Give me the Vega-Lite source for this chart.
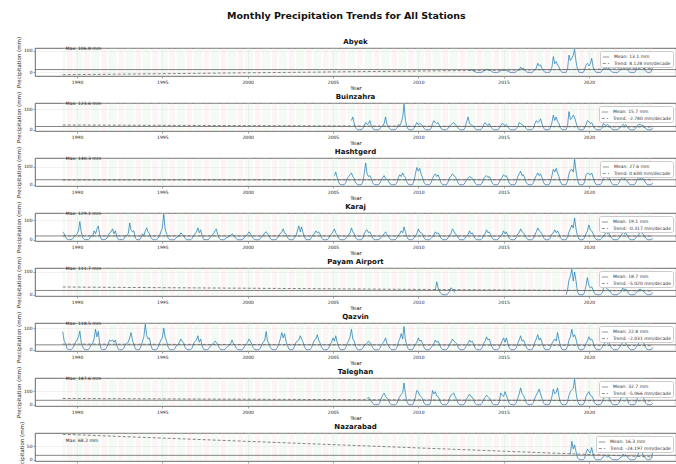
{
"$schema":"https://vega.github.io/schema/vega-lite/v6.json",
"background":"white",
"padding":{"left":16,"top":10,"right":0,"bottom":0},
"title":{"text":"Monthly Precipitation Trends for All Stations","fontSize":9.5,"fontWeight":"bold","anchor":"middle","offset":16,"color":"#111","frame":"bounds"},
"bounds":"flush",
"spacing":27,
"resolve":{"scale":{"strokeDash":"independent","x":"independent","y":"independent"},"legend":{"strokeDash":"independent"}},
"datasets":{
"st":[
{"s":"A","mean":13.1,"lab":"Mean: 13.1 mm","max":106.8,"mt":"Max: 106.8 mm","d0":"1989-03"},
{"s":"B","mean":15.7,"lab":"Mean: 15.7 mm","max":123.6,"mt":"Max: 123.6 mm","d0":"1989-03"},
{"s":"H","mean":27.6,"lab":"Mean: 27.6 mm","max":140.3,"mt":"Max: 140.3 mm","d0":"1989-03"},
{"s":"K","mean":19.1,"lab":"Mean: 19.1 mm","max":129.1,"mt":"Max: 129.1 mm","d0":"1989-03"},
{"s":"P","mean":18.7,"lab":"Mean: 18.7 mm","max":111.7,"mt":"Max: 111.7 mm","d0":"1989-03"},
{"s":"Q","mean":22.8,"lab":"Mean: 22.8 mm","max":118.5,"mt":"Max: 118.5 mm","d0":"1989-03"},
{"s":"T","mean":32.7,"lab":"Mean: 32.7 mm","max":187.6,"mt":"Max: 187.6 mm","d0":"1989-03"},
{"s":"N","mean":16.3,"lab":"Mean: 16.3 mm","max":68.2,"mt":"Max: 68.2 mm","d0":"1989-03"}
],
"tr":[
{"s":"A","d":"1989-03","v":-10.7,"lab":"Trend: 8.128 mm/decade"},{"s":"A","d":"2023-10","v":17.5,"lab":"Trend: 8.128 mm/decade"},
{"s":"B","d":"1989-03","v":22.9,"lab":"Trend: -2.780 mm/decade"},{"s":"B","d":"2023-10","v":13.2,"lab":"Trend: -2.780 mm/decade"},
{"s":"H","d":"1989-03","v":26.1,"lab":"Trend: 0.600 mm/decade"},{"s":"H","d":"2023-10","v":28.2,"lab":"Trend: 0.600 mm/decade"},
{"s":"K","d":"1989-03","v":19.65,"lab":"Trend: -0.317 mm/decade"},{"s":"K","d":"2023-10","v":18.55,"lab":"Trend: -0.317 mm/decade"},
{"s":"P","d":"1989-03","v":33.9,"lab":"Trend: -5.020 mm/decade"},{"s":"P","d":"2023-10","v":16.5,"lab":"Trend: -5.020 mm/decade"},
{"s":"Q","d":"1989-03","v":26.3,"lab":"Trend: -2.031 mm/decade"},{"s":"Q","d":"2023-10","v":19.3,"lab":"Trend: -2.031 mm/decade"},
{"s":"T","d":"1989-03","v":46.1,"lab":"Trend: -5.066 mm/decade"},{"s":"T","d":"2023-10","v":28.5,"lab":"Trend: -5.066 mm/decade"},
{"s":"N","d":"1989-03","v":94.3,"lab":"Trend: -24.197 mm/decade"},{"s":"N","d":"2023-10","v":10.4,"lab":"Trend: -24.197 mm/decade"}
],
"bd":[
{"w0":"1989-03","w1":"1989-05","d0":"1989-06","d1":"1989-10"},
{"w0":"1989-11","w1":"1990-05","d0":"1990-06","d1":"1990-10"},
{"w0":"1990-11","w1":"1991-05","d0":"1991-06","d1":"1991-10"},
{"w0":"1991-11","w1":"1992-05","d0":"1992-06","d1":"1992-10"},
{"w0":"1992-11","w1":"1993-05","d0":"1993-06","d1":"1993-10"},
{"w0":"1993-11","w1":"1994-05","d0":"1994-06","d1":"1994-10"},
{"w0":"1994-11","w1":"1995-05","d0":"1995-06","d1":"1995-10"},
{"w0":"1995-11","w1":"1996-05","d0":"1996-06","d1":"1996-10"},
{"w0":"1996-11","w1":"1997-05","d0":"1997-06","d1":"1997-10"},
{"w0":"1997-11","w1":"1998-05","d0":"1998-06","d1":"1998-10"},
{"w0":"1998-11","w1":"1999-05","d0":"1999-06","d1":"1999-10"},
{"w0":"1999-11","w1":"2000-05","d0":"2000-06","d1":"2000-10"},
{"w0":"2000-11","w1":"2001-05","d0":"2001-06","d1":"2001-10"},
{"w0":"2001-11","w1":"2002-05","d0":"2002-06","d1":"2002-10"},
{"w0":"2002-11","w1":"2003-05","d0":"2003-06","d1":"2003-10"},
{"w0":"2003-11","w1":"2004-05","d0":"2004-06","d1":"2004-10"},
{"w0":"2004-11","w1":"2005-05","d0":"2005-06","d1":"2005-10"},
{"w0":"2005-11","w1":"2006-05","d0":"2006-06","d1":"2006-10"},
{"w0":"2006-11","w1":"2007-05","d0":"2007-06","d1":"2007-10"},
{"w0":"2007-11","w1":"2008-05","d0":"2008-06","d1":"2008-10"},
{"w0":"2008-11","w1":"2009-05","d0":"2009-06","d1":"2009-10"},
{"w0":"2009-11","w1":"2010-05","d0":"2010-06","d1":"2010-10"},
{"w0":"2010-11","w1":"2011-05","d0":"2011-06","d1":"2011-10"},
{"w0":"2011-11","w1":"2012-05","d0":"2012-06","d1":"2012-10"},
{"w0":"2012-11","w1":"2013-05","d0":"2013-06","d1":"2013-10"},
{"w0":"2013-11","w1":"2014-05","d0":"2014-06","d1":"2014-10"},
{"w0":"2014-11","w1":"2015-05","d0":"2015-06","d1":"2015-10"},
{"w0":"2015-11","w1":"2016-05","d0":"2016-06","d1":"2016-10"},
{"w0":"2016-11","w1":"2017-05","d0":"2017-06","d1":"2017-10"},
{"w0":"2017-11","w1":"2018-05","d0":"2018-06","d1":"2018-10"},
{"w0":"2018-11","w1":"2019-05","d0":"2019-06","d1":"2019-10"},
{"w0":"2019-11","w1":"2020-05","d0":"2020-06","d1":"2020-10"},
{"w0":"2020-11","w1":"2021-05","d0":"2021-06","d1":"2021-10"},
{"w0":"2021-11","w1":"2022-05","d0":"2022-06","d1":"2022-10"},
{"w0":"2022-11","w1":"2023-05","d0":"2023-06","d1":"2023-10"}
],
"m":[
{"d":"1989-03","K":40,"Q":84},{"d":"1989-04","K":30,"Q":40},{"d":"1989-05","K":12,"Q":30},{"d":"1989-06","K":3,"Q":5},{"d":"1989-07","K":1,"Q":1},{"d":"1989-08","K":0,"Q":0},{"d":"1989-09","K":1,"Q":1},{"d":"1989-10","K":5,"Q":8},{"d":"1989-11","K":15,"Q":20},{"d":"1989-12","K":22,"Q":35},
{"d":"1990-01","K":30,"Q":45},{"d":"1990-02","K":45,"Q":60},{"d":"1990-03","K":92,"Q":87},{"d":"1990-04","K":40,"Q":35},{"d":"1990-05","K":10,"Q":15},{"d":"1990-06","K":2,"Q":2},{"d":"1990-07","K":0,"Q":0},{"d":"1990-08","K":1,"Q":0},{"d":"1990-09","K":0,"Q":1},{"d":"1990-10","K":6,"Q":10},{"d":"1990-11","K":20,"Q":25},{"d":"1990-12","K":18,"Q":30},
{"d":"1991-01","K":45,"Q":50},{"d":"1991-02","K":30,"Q":95},{"d":"1991-03","K":53,"Q":60},{"d":"1991-04","K":70,"Q":85},{"d":"1991-05","K":25,"Q":30},{"d":"1991-06","K":3,"Q":4},{"d":"1991-07","K":1,"Q":0},{"d":"1991-08","K":0,"Q":1},{"d":"1991-09","K":2,"Q":2},{"d":"1991-10","K":8,"Q":12},{"d":"1991-11","K":25,"Q":30},{"d":"1991-12","K":35,"Q":45},
{"d":"1992-01","K":40,"Q":40},{"d":"1992-02","K":55,"Q":45},{"d":"1992-03","K":30,"Q":35},{"d":"1992-04","K":45,"Q":45},{"d":"1992-05","K":15,"Q":20},{"d":"1992-06","K":2,"Q":3},{"d":"1992-07","K":0,"Q":0},{"d":"1992-08","K":1,"Q":0},{"d":"1992-09","K":0,"Q":1},{"d":"1992-10","K":4,"Q":8},{"d":"1992-11","K":18,"Q":25},{"d":"1992-12","K":22,"Q":30},
{"d":"1993-01","K":30,"Q":35},{"d":"1993-02","K":85,"Q":55},{"d":"1993-03","K":50,"Q":80},{"d":"1993-04","K":40,"Q":45},{"d":"1993-05","K":45,"Q":25},{"d":"1993-06","K":8,"Q":4},{"d":"1993-07","K":1,"Q":0},{"d":"1993-08","K":0,"Q":0},{"d":"1993-09","K":0,"Q":2},{"d":"1993-10","K":10,"Q":15},{"d":"1993-11","K":30,"Q":40},{"d":"1993-12","K":20,"Q":60},
{"d":"1994-01","K":45,"Q":118.5},{"d":"1994-02","K":60,"Q":65},{"d":"1994-03","K":40,"Q":50},{"d":"1994-04","K":30,"Q":55},{"d":"1994-05","K":12,"Q":20},{"d":"1994-06","K":2,"Q":2},{"d":"1994-07","K":0,"Q":0},{"d":"1994-08","K":0,"Q":0},{"d":"1994-09","K":1,"Q":1},{"d":"1994-10","K":7,"Q":10},{"d":"1994-11","K":20,"Q":30},{"d":"1994-12","K":40,"Q":45},
{"d":"1995-01","K":60,"Q":55},{"d":"1995-02","K":129.1,"Q":100},{"d":"1995-03","K":55,"Q":60},{"d":"1995-04","K":30,"Q":40},{"d":"1995-05","K":10,"Q":15},{"d":"1995-06","K":1,"Q":1},{"d":"1995-07","K":0,"Q":0},{"d":"1995-08","K":0,"Q":0},{"d":"1995-09","K":0,"Q":0},{"d":"1995-10","K":3,"Q":6},{"d":"1995-11","K":12,"Q":20},{"d":"1995-12","K":15,"Q":25},
{"d":"1996-01","K":20,"Q":35},{"d":"1996-02","K":35,"Q":50},{"d":"1996-03","K":28,"Q":40},{"d":"1996-04","K":20,"Q":30},{"d":"1996-05","K":8,"Q":12},{"d":"1996-06","K":1,"Q":2},{"d":"1996-07","K":0,"Q":0},{"d":"1996-08","K":0,"Q":0},{"d":"1996-09","K":0,"Q":1},{"d":"1996-10","K":8,"Q":8},{"d":"1996-11","K":22,"Q":30},{"d":"1996-12","K":30,"Q":40},
{"d":"1997-01","K":40,"Q":45},{"d":"1997-02","K":60,"Q":65},{"d":"1997-03","K":35,"Q":35},{"d":"1997-04","K":50,"Q":50},{"d":"1997-05","K":20,"Q":18},{"d":"1997-06","K":3,"Q":2},{"d":"1997-07","K":0,"Q":0},{"d":"1997-08","K":1,"Q":0},{"d":"1997-09","K":0,"Q":0},{"d":"1997-10","K":5,"Q":9},{"d":"1997-11","K":15,"Q":20},{"d":"1997-12","K":25,"Q":25},
{"d":"1998-01","K":30,"Q":30},{"d":"1998-02","K":45,"Q":40},{"d":"1998-03","K":55,"Q":35},{"d":"1998-04","K":25,"Q":25},{"d":"1998-05","K":8,"Q":10},{"d":"1998-06","K":1,"Q":1},{"d":"1998-07","K":0,"Q":0},{"d":"1998-08","K":0,"Q":0},{"d":"1998-09","K":2,"Q":1},{"d":"1998-10","K":10,"Q":10},{"d":"1998-11","K":12,"Q":15},{"d":"1998-12","K":18,"Q":20},
{"d":"1999-01","K":22,"Q":28},{"d":"1999-02","K":30,"Q":45},{"d":"1999-03","K":25,"Q":30},{"d":"1999-04","K":15,"Q":20},{"d":"1999-05","K":5,"Q":8},{"d":"1999-06","K":0,"Q":1},{"d":"1999-07","K":0,"Q":0},{"d":"1999-08","K":0,"Q":0},{"d":"1999-09","K":1,"Q":0},{"d":"1999-10","K":4,"Q":5},{"d":"1999-11","K":15,"Q":18},{"d":"1999-12","K":20,"Q":25},
{"d":"2000-01","K":28,"Q":35},{"d":"2000-02","K":40,"Q":50},{"d":"2000-03","K":30,"Q":40},{"d":"2000-04","K":18,"Q":25},{"d":"2000-05","K":6,"Q":10},{"d":"2000-06","K":1,"Q":1},{"d":"2000-07","K":0,"Q":0},{"d":"2000-08","K":0,"Q":0},{"d":"2000-09","K":0,"Q":1},{"d":"2000-10","K":6,"Q":8},{"d":"2000-11","K":18,"Q":25},{"d":"2000-12","K":22,"Q":35},
{"d":"2001-01","K":35,"Q":45},{"d":"2001-02","K":40,"Q":85},{"d":"2001-03","K":30,"Q":40},{"d":"2001-04","K":20,"Q":30},{"d":"2001-05","K":5,"Q":12},{"d":"2001-06","K":0,"Q":2},{"d":"2001-07","K":0,"Q":0},{"d":"2001-08","K":0,"Q":0},{"d":"2001-09","K":2,"Q":1},{"d":"2001-10","K":8,"Q":12},{"d":"2001-11","K":25,"Q":30},{"d":"2001-12","K":30,"Q":50},
{"d":"2002-01","K":40,"Q":80},{"d":"2002-02","K":55,"Q":55},{"d":"2002-03","K":35,"Q":75},{"d":"2002-04","K":30,"Q":40},{"d":"2002-05","K":12,"Q":20},{"d":"2002-06","K":2,"Q":3},{"d":"2002-07","K":0,"Q":0},{"d":"2002-08","K":0,"Q":0},{"d":"2002-09","K":1,"Q":2},{"d":"2002-10","K":10,"Q":15},{"d":"2002-11","K":22,"Q":35},{"d":"2002-12","K":45,"Q":40},
{"d":"2003-01","K":70,"Q":45},{"d":"2003-02","K":40,"Q":65},{"d":"2003-03","K":65,"Q":50},{"d":"2003-04","K":35,"Q":35},{"d":"2003-05","K":15,"Q":15},{"d":"2003-06","K":2,"Q":2},{"d":"2003-07","K":0,"Q":0},{"d":"2003-08","K":1,"Q":0},{"d":"2003-09","K":0,"Q":1},{"d":"2003-10","K":12,"Q":10},{"d":"2003-11","K":25,"Q":30},{"d":"2003-12","K":30,"Q":45},
{"d":"2004-01","K":45,"Q":50},{"d":"2004-02","K":35,"Q":70},{"d":"2004-03","K":40,"Q":45},{"d":"2004-04","K":28,"Q":30},{"d":"2004-05","K":10,"Q":12},{"d":"2004-06","K":1,"Q":2},{"d":"2004-07","K":0,"Q":0},{"d":"2004-08","K":0,"Q":0},{"d":"2004-09","K":1,"Q":1},{"d":"2004-10","K":6,"Q":8},{"d":"2004-11","K":20,"Q":25},{"d":"2004-12","K":30,"Q":35},
{"d":"2005-01","K":40,"Q":55},{"d":"2005-02","K":55,"Q":40,"H":50},{"d":"2005-03","K":35,"Q":65,"H":70},{"d":"2005-04","K":25,"Q":35,"H":40},{"d":"2005-05","K":8,"Q":15,"H":15},{"d":"2005-06","K":1,"Q":2,"H":2},{"d":"2005-07","K":0,"Q":0,"H":0},{"d":"2005-08","K":0,"Q":0,"H":0},{"d":"2005-09","K":0,"Q":1,"H":1},{"d":"2005-10","K":5,"Q":10,"H":10},{"d":"2005-11","K":18,"Q":30,"H":35},{"d":"2005-12","K":25,"Q":40,"H":45},
{"d":"2006-01","K":35,"Q":60,"H":55},{"d":"2006-02","K":60,"Q":95,"H":65,"B":45},{"d":"2006-03","K":40,"Q":50,"H":45,"B":62},{"d":"2006-04","K":30,"Q":40,"H":35,"B":30},{"d":"2006-05","K":10,"Q":15,"H":12,"B":10},{"d":"2006-06","K":1,"Q":2,"H":2,"B":1},{"d":"2006-07","K":0,"Q":0,"H":0,"B":0},{"d":"2006-08","K":0,"Q":0,"H":0,"B":0},{"d":"2006-09","K":0,"Q":1,"H":1,"B":0},{"d":"2006-10","K":8,"Q":8,"H":15,"B":5},{"d":"2006-11","K":30,"Q":20,"H":60,"B":20},{"d":"2006-12","K":45,"Q":25,"H":120,"B":35},
{"d":"2007-01","K":50,"Q":30,"H":60,"B":25,"T":45},{"d":"2007-02","K":35,"Q":40,"H":45,"B":30,"T":56},{"d":"2007-03","K":40,"Q":35,"H":50,"B":44,"T":40},{"d":"2007-04","K":25,"Q":25,"H":35,"B":20,"T":30},{"d":"2007-05","K":8,"Q":10,"H":10,"B":6,"T":10},{"d":"2007-06","K":1,"Q":1,"H":1,"B":1,"T":1},{"d":"2007-07","K":0,"Q":0,"H":0,"B":0,"T":0},{"d":"2007-08","K":0,"Q":0,"H":0,"B":0,"T":0},{"d":"2007-09","K":1,"Q":0,"H":1,"B":0,"T":1},{"d":"2007-10","K":4,"Q":6,"H":8,"B":4,"T":15},{"d":"2007-11","K":15,"Q":20,"H":25,"B":15,"T":50},{"d":"2007-12","K":20,"Q":30,"H":40,"B":20,"T":70},
{"d":"2008-01","K":30,"Q":40,"H":50,"B":30,"T":85},{"d":"2008-02","K":40,"Q":55,"H":35,"B":62,"T":60},{"d":"2008-03","K":25,"Q":30,"H":30,"B":25,"T":50},{"d":"2008-04","K":15,"Q":20,"H":20,"B":15,"T":35},{"d":"2008-05","K":5,"Q":8,"H":6,"B":5,"T":12},{"d":"2008-06","K":0,"Q":1,"H":1,"B":0,"T":1},{"d":"2008-07","K":0,"Q":0,"H":0,"B":0,"T":0},{"d":"2008-08","K":0,"Q":0,"H":0,"B":0,"T":0},{"d":"2008-09","K":1,"Q":1,"H":1,"B":1,"T":1},{"d":"2008-10","K":10,"Q":10,"H":12,"B":8,"T":10},{"d":"2008-11","K":25,"Q":35,"H":40,"B":26,"T":40},{"d":"2008-12","K":30,"Q":50,"H":55,"B":20,"T":60},
{"d":"2009-01","K":45,"Q":75,"H":45,"B":35,"T":75},{"d":"2009-02","K":35,"Q":50,"H":65,"B":60,"T":90},{"d":"2009-03","K":65,"Q":108,"H":50,"B":123.6,"T":160},{"d":"2009-04","K":40,"Q":45,"H":40,"B":45,"T":80},{"d":"2009-05","K":15,"Q":20,"H":15,"B":15,"T":25},{"d":"2009-06","K":2,"Q":3,"H":2,"B":2,"T":3},{"d":"2009-07","K":0,"Q":0,"H":0,"B":0,"T":0},{"d":"2009-08","K":0,"Q":0,"H":0,"B":0,"T":0},{"d":"2009-09","K":1,"Q":1,"H":1,"B":0,"T":1},{"d":"2009-10","K":8,"Q":12,"H":20,"B":6,"T":20},{"d":"2009-11","K":20,"Q":25,"H":60,"B":20,"T":60},{"d":"2009-12","K":30,"Q":35,"H":95,"B":35,"T":105},
{"d":"2010-01","K":55,"Q":55,"H":75,"B":25,"T":96},{"d":"2010-02","K":40,"Q":40,"H":90,"B":30,"T":70},{"d":"2010-03","K":35,"Q":45,"H":60,"B":26,"T":60},{"d":"2010-04","K":30,"Q":30,"H":40,"B":20,"T":45},{"d":"2010-05","K":10,"Q":12,"H":15,"B":8,"T":15},{"d":"2010-06","K":1,"Q":2,"H":2,"B":1,"T":2},{"d":"2010-07","K":0,"Q":0,"H":0,"B":0,"T":0},{"d":"2010-08","K":0,"Q":0,"H":0,"B":0,"T":0},{"d":"2010-09","K":0,"Q":1,"H":1,"B":0,"T":1},{"d":"2010-10","K":6,"Q":8,"H":10,"B":5,"T":25},{"d":"2010-11","K":15,"Q":20,"H":35,"B":30,"T":105},{"d":"2010-12","K":25,"Q":30,"H":50,"B":44,"T":80},
{"d":"2011-01","K":40,"Q":45,"H":60,"B":35,"T":96,"P":20},{"d":"2011-02","K":30,"Q":35,"H":45,"B":30,"T":65,"P":57},{"d":"2011-03","K":35,"Q":40,"H":55,"B":35,"T":60,"P":30},{"d":"2011-04","K":25,"Q":25,"H":35,"B":20,"T":40,"P":15},{"d":"2011-05","K":8,"Q":10,"H":12,"B":6,"T":12,"P":5},{"d":"2011-06","K":1,"Q":1,"H":1,"B":1,"T":1,"P":1},{"d":"2011-07","K":0,"Q":0,"H":0,"B":0,"T":0,"P":0},{"d":"2011-08","K":0,"Q":0,"H":0,"B":0,"T":0,"P":0},{"d":"2011-09","K":1,"Q":1,"H":1,"B":1,"T":1,"P":0},{"d":"2011-10","K":10,"Q":10,"H":15,"B":6,"T":15,"P":5},{"d":"2011-11","K":25,"Q":25,"H":40,"B":18,"T":50,"P":15},{"d":"2011-12","K":30,"Q":35,"H":45,"B":25,"T":70,"P":30},
{"d":"2012-01","K":55,"Q":50,"H":60,"B":30,"T":78,"P":25},{"d":"2012-02","K":45,"Q":40,"H":50,"B":35,"T":87,"P":15},{"d":"2012-03","K":30,"Q":35,"H":45,"B":25,"T":60,"P":10},{"d":"2012-04","K":25,"Q":28,"H":30,"B":20,"T":40},{"d":"2012-05","K":10,"Q":12,"H":10,"B":8,"T":12},{"d":"2012-06","K":1,"Q":2,"H":1,"B":1,"T":1},{"d":"2012-07","K":0,"Q":0,"H":0,"B":0,"T":0},{"d":"2012-08","K":0,"Q":0,"H":0,"B":0,"T":0},{"d":"2012-09","K":1,"Q":0,"H":1,"B":0,"T":1},{"d":"2012-10","K":8,"Q":8,"H":12,"B":10,"T":15},{"d":"2012-11","K":20,"Q":20,"H":30,"B":40,"T":45},{"d":"2012-12","K":25,"Q":30,"H":35,"B":62,"T":60},
{"d":"2013-01","K":45,"Q":45,"H":45,"B":30,"T":78,"A":8},{"d":"2013-02","K":30,"Q":35,"H":40,"B":25,"T":60,"A":12},{"d":"2013-03","K":35,"Q":40,"H":35,"B":20,"T":55,"A":10},{"d":"2013-04","K":20,"Q":25,"H":25,"B":15,"T":35,"A":6},{"d":"2013-05","K":6,"Q":8,"H":8,"B":5,"T":10,"A":3},{"d":"2013-06","K":1,"Q":1,"H":1,"B":0,"T":1,"A":0},{"d":"2013-07","K":0,"Q":0,"H":0,"B":0,"T":0,"A":0},{"d":"2013-08","K":0,"Q":0,"H":0,"B":0,"T":0,"A":0},{"d":"2013-09","K":0,"Q":1,"H":1,"B":0,"T":1,"A":0},{"d":"2013-10","K":7,"Q":10,"H":10,"B":8,"T":12,"A":2},{"d":"2013-11","K":25,"Q":30,"H":35,"B":25,"T":40,"A":6},{"d":"2013-12","K":30,"Q":40,"H":45,"B":35,"T":55,"A":10},
{"d":"2014-01","K":50,"Q":60,"H":50,"B":25,"T":70,"A":12},{"d":"2014-02","K":35,"Q":45,"H":40,"B":20,"T":60,"A":15},{"d":"2014-03","K":40,"Q":50,"H":45,"B":30,"T":50,"A":10},{"d":"2014-04","K":25,"Q":30,"H":30,"B":15,"T":35,"A":8},{"d":"2014-05","K":8,"Q":12,"H":10,"B":5,"T":10,"A":3},{"d":"2014-06","K":1,"Q":2,"H":1,"B":0,"T":1,"A":0},{"d":"2014-07","K":0,"Q":0,"H":0,"B":0,"T":0,"A":0},{"d":"2014-08","K":0,"Q":0,"H":0,"B":0,"T":0,"A":0},{"d":"2014-09","K":1,"Q":1,"H":1,"B":1,"T":1,"A":0},{"d":"2014-10","K":10,"Q":8,"H":12,"B":6,"T":20,"A":3},{"d":"2014-11","K":20,"Q":25,"H":30,"B":20,"T":87,"A":8},{"d":"2014-12","K":25,"Q":40,"H":40,"B":30,"T":70,"A":10},
{"d":"2015-01","K":45,"Q":55,"H":55,"B":26,"T":60,"A":10},{"d":"2015-02","K":30,"Q":35,"H":45,"B":20,"T":96,"A":12},{"d":"2015-03","K":40,"Q":55,"H":50,"B":25,"T":70,"A":8},{"d":"2015-04","K":22,"Q":30,"H":30,"B":15,"T":40,"A":6},{"d":"2015-05","K":8,"Q":10,"H":10,"B":5,"T":12,"A":2},{"d":"2015-06","K":1,"Q":1,"H":1,"B":0,"T":1,"A":0},{"d":"2015-07","K":0,"Q":0,"H":0,"B":0,"T":0,"A":0},{"d":"2015-08","K":0,"Q":0,"H":0,"B":0,"T":0,"A":0},{"d":"2015-09","K":1,"Q":1,"H":1,"B":0,"T":1,"A":0},{"d":"2015-10","K":12,"Q":10,"H":15,"B":5,"T":15,"A":4},{"d":"2015-11","K":30,"Q":30,"H":45,"B":15,"T":50,"A":10},{"d":"2015-12","K":35,"Q":45,"H":60,"B":35,"T":80,"A":12},
{"d":"2016-01","K":55,"Q":65,"H":75,"B":30,"T":124,"A":25},{"d":"2016-02","K":40,"Q":40,"H":50,"B":25,"T":80,"A":15},{"d":"2016-03","K":35,"Q":45,"H":55,"B":20,"T":70,"A":20},{"d":"2016-04","K":25,"Q":30,"H":35,"B":15,"T":45,"A":10},{"d":"2016-05","K":10,"Q":12,"H":12,"B":5,"T":15,"A":4},{"d":"2016-06","K":1,"Q":2,"H":2,"B":0,"T":2,"A":0},{"d":"2016-07","K":0,"Q":0,"H":0,"B":0,"T":0,"A":0},{"d":"2016-08","K":0,"Q":0,"H":0,"B":0,"T":0,"A":0},{"d":"2016-09","K":0,"Q":1,"H":1,"B":1,"T":1,"A":0},{"d":"2016-10","K":8,"Q":12,"H":10,"B":8,"T":15,"A":5},{"d":"2016-11","K":25,"Q":35,"H":35,"B":30,"T":50,"A":12},{"d":"2016-12","K":40,"Q":50,"H":50,"B":44,"T":70,"A":20},
{"d":"2017-01","K":60,"Q":70,"H":65,"B":35,"T":90,"A":42},{"d":"2017-02","K":45,"Q":45,"H":50,"B":40,"T":115,"A":30},{"d":"2017-03","K":40,"Q":55,"H":60,"B":53,"T":80,"A":35},{"d":"2017-04","K":30,"Q":35,"H":40,"B":30,"T":50,"A":20},{"d":"2017-05","K":12,"Q":15,"H":15,"B":10,"T":15,"A":8},{"d":"2017-06","K":2,"Q":2,"H":2,"B":1,"T":2,"A":1},{"d":"2017-07","K":0,"Q":0,"H":0,"B":0,"T":0,"A":0},{"d":"2017-08","K":0,"Q":0,"H":0,"B":0,"T":0,"A":0},{"d":"2017-09","K":1,"Q":1,"H":1,"B":0,"T":1,"A":0},{"d":"2017-10","K":10,"Q":10,"H":15,"B":10,"T":20,"A":5},{"d":"2017-11","K":30,"Q":30,"H":50,"B":35,"T":60,"A":25},{"d":"2017-12","K":35,"Q":40,"H":85,"B":71,"T":115,"A":73},
{"d":"2018-01","K":50,"Q":50,"H":70,"B":45,"T":80,"A":40},{"d":"2018-02","K":35,"Q":40,"H":90,"B":62,"T":90,"A":50},{"d":"2018-03","K":45,"Q":80,"H":65,"B":40,"T":124,"A":35},{"d":"2018-04","K":30,"Q":45,"H":45,"B":30,"T":60,"A":25},{"d":"2018-05","K":10,"Q":18,"H":15,"B":10,"T":20,"A":8},{"d":"2018-06","K":1,"Q":2,"H":2,"B":1,"T":2,"A":1},{"d":"2018-07","K":0,"Q":0,"H":0,"B":0,"T":0,"A":0},{"d":"2018-08","K":0,"Q":0,"H":0,"B":0,"T":0,"A":0},{"d":"2018-09","K":1,"Q":1,"H":1,"B":1,"T":1,"A":0,"P":0},{"d":"2018-10","K":15,"Q":15,"H":20,"B":20,"T":25,"A":15,"P":20},{"d":"2018-11","K":40,"Q":45,"H":60,"B":88,"T":70,"A":80,"P":66},{"d":"2018-12","K":55,"Q":60,"H":80,"B":50,"T":96,"A":55,"P":80,"N":20},
{"d":"2019-01","K":75,"Q":95,"H":85,"B":55,"T":110,"A":65,"P":111.7,"N":68.2},{"d":"2019-02","K":60,"Q":60,"H":70,"B":71,"T":120,"A":80,"P":60,"N":40},{"d":"2019-03","K":110,"Q":70,"H":140.3,"B":60,"T":187.6,"A":106.8,"P":100,"N":55},{"d":"2019-04","K":55,"Q":50,"H":75,"B":35,"T":90,"A":50,"P":60,"N":30},{"d":"2019-05","K":20,"Q":20,"H":30,"B":12,"T":30,"A":15,"P":15,"N":8},{"d":"2019-06","K":3,"Q":3,"H":3,"B":1,"T":3,"A":1,"P":1,"N":1},{"d":"2019-07","K":0,"Q":0,"H":0,"B":0,"T":0,"A":0,"P":0,"N":0},{"d":"2019-08","K":0,"Q":0,"H":0,"B":0,"T":0,"A":0,"P":0,"N":0},{"d":"2019-09","K":1,"Q":1,"H":1,"B":0,"T":1,"A":0,"P":0,"N":0},{"d":"2019-10","K":10,"Q":10,"H":15,"B":8,"T":20,"A":10,"P":10,"N":5},{"d":"2019-11","K":30,"Q":30,"H":55,"B":25,"T":60,"A":35,"P":40,"N":25},{"d":"2019-12","K":45,"Q":40,"H":65,"B":44,"T":80,"A":42,"P":75,"N":40},
{"d":"2020-01","K":75,"Q":60,"H":60,"B":40,"T":96,"A":30,"P":40,"N":30},{"d":"2020-02","K":50,"Q":45,"H":55,"B":30,"T":70,"A":40,"P":30,"N":25},{"d":"2020-03","K":45,"Q":50,"H":65,"B":35,"T":65,"A":65,"P":35,"N":45},{"d":"2020-04","K":30,"Q":35,"H":40,"B":20,"T":45,"A":25,"P":20,"N":20},{"d":"2020-05","K":12,"Q":12,"H":15,"B":8,"T":15,"A":8,"P":5,"N":5},{"d":"2020-06","K":2,"Q":2,"H":2,"B":1,"T":2,"A":1,"P":1,"N":0},{"d":"2020-07","K":0,"Q":0,"H":0,"B":0,"T":0,"A":0,"P":0,"N":0},{"d":"2020-08","K":0,"Q":0,"H":0,"B":0,"T":0,"A":0,"P":0,"N":0},{"d":"2020-09","K":1,"Q":1,"H":1,"B":0,"T":1,"A":0,"P":0,"N":0},{"d":"2020-10","K":6,"Q":8,"H":10,"B":6,"T":10,"A":5,"P":5,"N":3},{"d":"2020-11","K":20,"Q":20,"H":35,"B":30,"T":40,"A":15,"P":20,"N":10},{"d":"2020-12","K":25,"Q":30,"H":40,"B":25,"T":60,"A":20,"P":68,"N":15},
{"d":"2021-01","K":40,"Q":45,"H":45,"B":20,"T":78,"A":20,"P":30,"N":15},{"d":"2021-02","K":30,"Q":30,"H":35,"B":25,"T":55,"A":15,"P":25,"N":10},{"d":"2021-03","K":35,"Q":35,"H":40,"B":20,"T":50,"A":18,"P":20,"N":12},{"d":"2021-04","K":20,"Q":20,"H":25,"B":15,"T":35,"A":10,"P":15,"N":8},{"d":"2021-05","K":8,"Q":8,"H":8,"B":5,"T":10,"A":4,"P":5,"N":3},{"d":"2021-06","K":1,"Q":1,"H":1,"B":0,"T":1,"A":0,"P":0,"N":0},{"d":"2021-07","K":0,"Q":0,"H":0,"B":0,"T":0,"A":0,"P":0,"N":0},{"d":"2021-08","K":0,"Q":0,"H":0,"B":0,"T":0,"A":0,"P":0,"N":0},{"d":"2021-09","K":0,"Q":0,"H":0,"B":0,"T":1,"A":0,"P":0,"N":0},{"d":"2021-10","K":5,"Q":6,"H":8,"B":4,"T":8,"A":3,"P":3,"N":2},{"d":"2021-11","K":15,"Q":15,"H":25,"B":10,"T":35,"A":10,"P":10,"N":8},{"d":"2021-12","K":25,"Q":25,"H":35,"B":15,"T":60,"A":15,"P":15,"N":10},
{"d":"2022-01","K":45,"Q":40,"H":40,"B":26,"T":87,"A":35,"P":36,"N":20},{"d":"2022-02","K":30,"Q":35,"H":35,"B":20,"T":65,"A":20,"P":20,"N":15},{"d":"2022-03","K":35,"Q":30,"H":30,"B":25,"T":60,"A":25,"P":25,"N":18},{"d":"2022-04","K":22,"Q":20,"H":20,"B":15,"T":40,"A":15,"P":15,"N":10},{"d":"2022-05","K":8,"Q":8,"H":8,"B":5,"T":12,"A":5,"P":5,"N":4},{"d":"2022-06","K":1,"Q":1,"H":1,"B":0,"T":1,"A":0,"P":0,"N":0},{"d":"2022-07","K":0,"Q":0,"H":0,"B":0,"T":0,"A":0,"P":0,"N":0},{"d":"2022-08","K":0,"Q":0,"H":0,"B":0,"T":0,"A":0,"P":0,"N":0},{"d":"2022-09","K":1,"Q":1,"H":1,"B":1,"T":1,"A":0,"P":0,"N":0},{"d":"2022-10","K":8,"Q":8,"H":10,"B":6,"T":10,"A":5,"P":5,"N":5},{"d":"2022-11","K":20,"Q":20,"H":30,"B":20,"T":45,"A":35,"P":15,"N":15},{"d":"2022-12","K":25,"Q":30,"H":40,"B":25,"T":87,"A":20,"P":20,"N":25},
{"d":"2023-01","K":40,"Q":45,"H":35,"B":26,"T":75,"A":25,"P":25,"N":30},{"d":"2023-02","K":35,"Q":35,"H":30,"B":20,"T":60,"A":42,"P":20,"N":35},{"d":"2023-03","K":30,"Q":40,"H":35,"B":22,"T":55,"A":30,"P":18,"N":20},{"d":"2023-04","K":20,"Q":25,"H":25,"B":15,"T":40,"A":15,"P":10,"N":12},{"d":"2023-05","K":8,"Q":10,"H":10,"B":5,"T":12,"A":5,"P":5,"N":5},{"d":"2023-06","K":1,"Q":1,"H":1,"B":1,"T":1,"A":1,"P":0,"N":0},{"d":"2023-07","K":0,"Q":0,"H":0,"B":0,"T":0,"A":0,"P":0,"N":0},{"d":"2023-08","K":0,"Q":0,"H":0,"B":0,"T":0,"A":0,"P":0,"N":0},{"d":"2023-09","K":1,"Q":1,"H":1,"B":0,"T":1,"A":5,"P":2,"N":5},{"d":"2023-10","K":8,"Q":10,"H":10,"B":10,"T":12,"A":30,"P":10,"N":30}
]
},
"vconcat":[
{"title":{"text":"Abyek","frame":"group"},"width":641,"height":28,"layer":[
{"data":{"name":"bd"},"mark":{"type":"rect","color":"#cdebcd","opacity":0.22},"encoding":{"x":{"field":"w0","type":"temporal","title":"Year"},"x2":{"field":"w1"}}},
{"data":{"name":"bd"},"mark":{"type":"rect","color":"#f5d3d3","opacity":0.22},"encoding":{"x":{"field":"d0","type":"temporal","title":"Year"},"x2":{"field":"d1"}}},
{"data":{"name":"m"},"transform":[{"fold":["A"],"as":["s","v"]}],"mark":{"type":"line","color":"#1f77b4","strokeWidth":0.9,"opacity":0.8,"invalid":"break-paths-show-domains"},"encoding":{"x":{"field":"d","type":"temporal","title":"Year","scale":{"type":"utc","nice":false,"domain":[{"year":1987,"month":7,"date":16,"utc":true},{"year":2025,"month":2,"date":8,"utc":true}]},"axis":{"values":[{"year":1990,"utc":true},{"year":1995,"utc":true},{"year":2000,"utc":true},{"year":2005,"utc":true},{"year":2010,"utc":true},{"year":2015,"utc":true},{"year":2020,"utc":true}],"format":"%Y","labelOverlap":false}},"y":{"field":"v","type":"quantitative","title":"Precipitation (mm)","scale":{"domain":[-16.6,112.7],"nice":false,"zero":false},"axis":{"values":[0,50,100]}}}},
{"data":{"name":"st"},"transform":[{"filter":"datum.s=='A'"}],"mark":{"type":"rule","color":"#666","strokeWidth":0.8},"encoding":{"y":{"field":"mean","type":"quantitative","title":"Precipitation (mm)"},"strokeDash":{"field":"lab","type":"nominal","scale":{"range":[[1,0],[3,2]]},"legend":{"title":null}}}},
{"data":{"name":"tr"},"transform":[{"filter":"datum.s=='A'"}],"mark":{"type":"line","color":"#666","strokeWidth":0.8},"encoding":{"x":{"field":"d","type":"temporal","title":"Year"},"y":{"field":"v","type":"quantitative","title":"Precipitation (mm)"},"strokeDash":{"field":"lab","type":"nominal"}}},
{"data":{"name":"st"},"transform":[{"filter":"datum.s=='A'"}],"mark":{"type":"text","align":"left","baseline":"middle","dx":3,"fontSize":4.5,"color":"#222"},"encoding":{"x":{"field":"d0","type":"temporal","title":"Year"},"y":{"field":"max","type":"quantitative","title":"Precipitation (mm)"},"text":{"field":"mt"}}}
]},
{"title":{"text":"Buinzahra","frame":"group"},"width":641,"height":28,"layer":[
{"data":{"name":"bd"},"mark":{"type":"rect","color":"#cdebcd","opacity":0.22},"encoding":{"x":{"field":"w0","type":"temporal","title":"Year"},"x2":{"field":"w1"}}},
{"data":{"name":"bd"},"mark":{"type":"rect","color":"#f5d3d3","opacity":0.22},"encoding":{"x":{"field":"d0","type":"temporal","title":"Year"},"x2":{"field":"d1"}}},
{"data":{"name":"m"},"transform":[{"fold":["B"],"as":["s","v"]}],"mark":{"type":"line","color":"#1f77b4","strokeWidth":0.9,"opacity":0.8,"invalid":"break-paths-show-domains"},"encoding":{"x":{"field":"d","type":"temporal","title":"Year","scale":{"type":"utc","nice":false,"domain":[{"year":1987,"month":7,"date":16,"utc":true},{"year":2025,"month":2,"date":8,"utc":true}]},"axis":{"values":[{"year":1990,"utc":true},{"year":1995,"utc":true},{"year":2000,"utc":true},{"year":2005,"utc":true},{"year":2010,"utc":true},{"year":2015,"utc":true},{"year":2020,"utc":true}],"format":"%Y","labelOverlap":false}},"y":{"field":"v","type":"quantitative","title":"Precipitation (mm)","scale":{"domain":[-6.2,129.8],"nice":false,"zero":false},"axis":{"values":[0,50,100]}}}},
{"data":{"name":"st"},"transform":[{"filter":"datum.s=='B'"}],"mark":{"type":"rule","color":"#666","strokeWidth":0.8},"encoding":{"y":{"field":"mean","type":"quantitative","title":"Precipitation (mm)"},"strokeDash":{"field":"lab","type":"nominal","scale":{"range":[[1,0],[3,2]]},"legend":{"title":null}}}},
{"data":{"name":"tr"},"transform":[{"filter":"datum.s=='B'"}],"mark":{"type":"line","color":"#666","strokeWidth":0.8},"encoding":{"x":{"field":"d","type":"temporal","title":"Year"},"y":{"field":"v","type":"quantitative","title":"Precipitation (mm)"},"strokeDash":{"field":"lab","type":"nominal"}}},
{"data":{"name":"st"},"transform":[{"filter":"datum.s=='B'"}],"mark":{"type":"text","align":"left","baseline":"middle","dx":3,"fontSize":4.5,"color":"#222"},"encoding":{"x":{"field":"d0","type":"temporal","title":"Year"},"y":{"field":"max","type":"quantitative","title":"Precipitation (mm)"},"text":{"field":"mt"}}}
]},
{"title":{"text":"Hashtgerd","frame":"group"},"width":641,"height":28,"layer":[
{"data":{"name":"bd"},"mark":{"type":"rect","color":"#cdebcd","opacity":0.22},"encoding":{"x":{"field":"w0","type":"temporal","title":"Year"},"x2":{"field":"w1"}}},
{"data":{"name":"bd"},"mark":{"type":"rect","color":"#f5d3d3","opacity":0.22},"encoding":{"x":{"field":"d0","type":"temporal","title":"Year"},"x2":{"field":"d1"}}},
{"data":{"name":"m"},"transform":[{"fold":["H"],"as":["s","v"]}],"mark":{"type":"line","color":"#1f77b4","strokeWidth":0.9,"opacity":0.8,"invalid":"break-paths-show-domains"},"encoding":{"x":{"field":"d","type":"temporal","title":"Year","scale":{"type":"utc","nice":false,"domain":[{"year":1987,"month":7,"date":16,"utc":true},{"year":2025,"month":2,"date":8,"utc":true}]},"axis":{"values":[{"year":1990,"utc":true},{"year":1995,"utc":true},{"year":2000,"utc":true},{"year":2005,"utc":true},{"year":2010,"utc":true},{"year":2015,"utc":true},{"year":2020,"utc":true}],"format":"%Y","labelOverlap":false}},"y":{"field":"v","type":"quantitative","title":"Precipitation (mm)","scale":{"domain":[-7,147.3],"nice":false,"zero":false},"axis":{"values":[0,100]}}}},
{"data":{"name":"st"},"transform":[{"filter":"datum.s=='H'"}],"mark":{"type":"rule","color":"#666","strokeWidth":0.8},"encoding":{"y":{"field":"mean","type":"quantitative","title":"Precipitation (mm)"},"strokeDash":{"field":"lab","type":"nominal","scale":{"range":[[1,0],[3,2]]},"legend":{"title":null}}}},
{"data":{"name":"tr"},"transform":[{"filter":"datum.s=='H'"}],"mark":{"type":"line","color":"#666","strokeWidth":0.8},"encoding":{"x":{"field":"d","type":"temporal","title":"Year"},"y":{"field":"v","type":"quantitative","title":"Precipitation (mm)"},"strokeDash":{"field":"lab","type":"nominal"}}},
{"data":{"name":"st"},"transform":[{"filter":"datum.s=='H'"}],"mark":{"type":"text","align":"left","baseline":"middle","dx":3,"fontSize":4.5,"color":"#222"},"encoding":{"x":{"field":"d0","type":"temporal","title":"Year"},"y":{"field":"max","type":"quantitative","title":"Precipitation (mm)"},"text":{"field":"mt"}}}
]},
{"title":{"text":"Karaj","frame":"group"},"width":641,"height":28,"layer":[
{"data":{"name":"bd"},"mark":{"type":"rect","color":"#cdebcd","opacity":0.22},"encoding":{"x":{"field":"w0","type":"temporal","title":"Year"},"x2":{"field":"w1"}}},
{"data":{"name":"bd"},"mark":{"type":"rect","color":"#f5d3d3","opacity":0.22},"encoding":{"x":{"field":"d0","type":"temporal","title":"Year"},"x2":{"field":"d1"}}},
{"data":{"name":"m"},"transform":[{"fold":["K"],"as":["s","v"]}],"mark":{"type":"line","color":"#1f77b4","strokeWidth":0.9,"opacity":0.8,"invalid":"break-paths-show-domains"},"encoding":{"x":{"field":"d","type":"temporal","title":"Year","scale":{"type":"utc","nice":false,"domain":[{"year":1987,"month":7,"date":16,"utc":true},{"year":2025,"month":2,"date":8,"utc":true}]},"axis":{"values":[{"year":1990,"utc":true},{"year":1995,"utc":true},{"year":2000,"utc":true},{"year":2005,"utc":true},{"year":2010,"utc":true},{"year":2015,"utc":true},{"year":2020,"utc":true}],"format":"%Y","labelOverlap":false}},"y":{"field":"v","type":"quantitative","title":"Precipitation (mm)","scale":{"domain":[-6.5,135.6],"nice":false,"zero":false},"axis":{"values":[0,50,100]}}}},
{"data":{"name":"st"},"transform":[{"filter":"datum.s=='K'"}],"mark":{"type":"rule","color":"#666","strokeWidth":0.8},"encoding":{"y":{"field":"mean","type":"quantitative","title":"Precipitation (mm)"},"strokeDash":{"field":"lab","type":"nominal","scale":{"range":[[1,0],[3,2]]},"legend":{"title":null}}}},
{"data":{"name":"tr"},"transform":[{"filter":"datum.s=='K'"}],"mark":{"type":"line","color":"#666","strokeWidth":0.8},"encoding":{"x":{"field":"d","type":"temporal","title":"Year"},"y":{"field":"v","type":"quantitative","title":"Precipitation (mm)"},"strokeDash":{"field":"lab","type":"nominal"}}},
{"data":{"name":"st"},"transform":[{"filter":"datum.s=='K'"}],"mark":{"type":"text","align":"left","baseline":"middle","dx":3,"fontSize":4.5,"color":"#222"},"encoding":{"x":{"field":"d0","type":"temporal","title":"Year"},"y":{"field":"max","type":"quantitative","title":"Precipitation (mm)"},"text":{"field":"mt"}}}
]},
{"title":{"text":"Payam Airport","frame":"group"},"width":641,"height":28,"layer":[
{"data":{"name":"bd"},"mark":{"type":"rect","color":"#cdebcd","opacity":0.22},"encoding":{"x":{"field":"w0","type":"temporal","title":"Year"},"x2":{"field":"w1"}}},
{"data":{"name":"bd"},"mark":{"type":"rect","color":"#f5d3d3","opacity":0.22},"encoding":{"x":{"field":"d0","type":"temporal","title":"Year"},"x2":{"field":"d1"}}},
{"data":{"name":"m"},"transform":[{"fold":["P"],"as":["s","v"]}],"mark":{"type":"line","color":"#1f77b4","strokeWidth":0.9,"opacity":0.8,"invalid":"break-paths-show-domains"},"encoding":{"x":{"field":"d","type":"temporal","title":"Year","scale":{"type":"utc","nice":false,"domain":[{"year":1987,"month":7,"date":16,"utc":true},{"year":2025,"month":2,"date":8,"utc":true}]},"axis":{"values":[{"year":1990,"utc":true},{"year":1995,"utc":true},{"year":2000,"utc":true},{"year":2005,"utc":true},{"year":2010,"utc":true},{"year":2015,"utc":true},{"year":2020,"utc":true}],"format":"%Y","labelOverlap":false}},"y":{"field":"v","type":"quantitative","title":"Precipitation (mm)","scale":{"domain":[-5.6,117.3],"nice":false,"zero":false},"axis":{"values":[0,50,100]}}}},
{"data":{"name":"st"},"transform":[{"filter":"datum.s=='P'"}],"mark":{"type":"rule","color":"#666","strokeWidth":0.8},"encoding":{"y":{"field":"mean","type":"quantitative","title":"Precipitation (mm)"},"strokeDash":{"field":"lab","type":"nominal","scale":{"range":[[1,0],[3,2]]},"legend":{"title":null}}}},
{"data":{"name":"tr"},"transform":[{"filter":"datum.s=='P'"}],"mark":{"type":"line","color":"#666","strokeWidth":0.8},"encoding":{"x":{"field":"d","type":"temporal","title":"Year"},"y":{"field":"v","type":"quantitative","title":"Precipitation (mm)"},"strokeDash":{"field":"lab","type":"nominal"}}},
{"data":{"name":"st"},"transform":[{"filter":"datum.s=='P'"}],"mark":{"type":"text","align":"left","baseline":"middle","dx":3,"fontSize":4.5,"color":"#222"},"encoding":{"x":{"field":"d0","type":"temporal","title":"Year"},"y":{"field":"max","type":"quantitative","title":"Precipitation (mm)"},"text":{"field":"mt"}}}
]},
{"title":{"text":"Qazvin","frame":"group"},"width":641,"height":28,"layer":[
{"data":{"name":"bd"},"mark":{"type":"rect","color":"#cdebcd","opacity":0.22},"encoding":{"x":{"field":"w0","type":"temporal","title":"Year"},"x2":{"field":"w1"}}},
{"data":{"name":"bd"},"mark":{"type":"rect","color":"#f5d3d3","opacity":0.22},"encoding":{"x":{"field":"d0","type":"temporal","title":"Year"},"x2":{"field":"d1"}}},
{"data":{"name":"m"},"transform":[{"fold":["Q"],"as":["s","v"]}],"mark":{"type":"line","color":"#1f77b4","strokeWidth":0.9,"opacity":0.8,"invalid":"break-paths-show-domains"},"encoding":{"x":{"field":"d","type":"temporal","title":"Year","scale":{"type":"utc","nice":false,"domain":[{"year":1987,"month":7,"date":16,"utc":true},{"year":2025,"month":2,"date":8,"utc":true}]},"axis":{"values":[{"year":1990,"utc":true},{"year":1995,"utc":true},{"year":2000,"utc":true},{"year":2005,"utc":true},{"year":2010,"utc":true},{"year":2015,"utc":true},{"year":2020,"utc":true}],"format":"%Y","labelOverlap":false}},"y":{"field":"v","type":"quantitative","title":"Precipitation (mm)","scale":{"domain":[-5.9,124.4],"nice":false,"zero":false},"axis":{"values":[0,50,100]}}}},
{"data":{"name":"st"},"transform":[{"filter":"datum.s=='Q'"}],"mark":{"type":"rule","color":"#666","strokeWidth":0.8},"encoding":{"y":{"field":"mean","type":"quantitative","title":"Precipitation (mm)"},"strokeDash":{"field":"lab","type":"nominal","scale":{"range":[[1,0],[3,2]]},"legend":{"title":null}}}},
{"data":{"name":"tr"},"transform":[{"filter":"datum.s=='Q'"}],"mark":{"type":"line","color":"#666","strokeWidth":0.8},"encoding":{"x":{"field":"d","type":"temporal","title":"Year"},"y":{"field":"v","type":"quantitative","title":"Precipitation (mm)"},"strokeDash":{"field":"lab","type":"nominal"}}},
{"data":{"name":"st"},"transform":[{"filter":"datum.s=='Q'"}],"mark":{"type":"text","align":"left","baseline":"middle","dx":3,"fontSize":4.5,"color":"#222"},"encoding":{"x":{"field":"d0","type":"temporal","title":"Year"},"y":{"field":"max","type":"quantitative","title":"Precipitation (mm)"},"text":{"field":"mt"}}}
]},
{"title":{"text":"Taleghan","frame":"group"},"width":641,"height":28,"layer":[
{"data":{"name":"bd"},"mark":{"type":"rect","color":"#cdebcd","opacity":0.22},"encoding":{"x":{"field":"w0","type":"temporal","title":"Year"},"x2":{"field":"w1"}}},
{"data":{"name":"bd"},"mark":{"type":"rect","color":"#f5d3d3","opacity":0.22},"encoding":{"x":{"field":"d0","type":"temporal","title":"Year"},"x2":{"field":"d1"}}},
{"data":{"name":"m"},"transform":[{"fold":["T"],"as":["s","v"]}],"mark":{"type":"line","color":"#1f77b4","strokeWidth":0.9,"opacity":0.8,"invalid":"break-paths-show-domains"},"encoding":{"x":{"field":"d","type":"temporal","title":"Year","scale":{"type":"utc","nice":false,"domain":[{"year":1987,"month":7,"date":16,"utc":true},{"year":2025,"month":2,"date":8,"utc":true}]},"axis":{"values":[{"year":1990,"utc":true},{"year":1995,"utc":true},{"year":2000,"utc":true},{"year":2005,"utc":true},{"year":2010,"utc":true},{"year":2015,"utc":true},{"year":2020,"utc":true}],"format":"%Y","labelOverlap":false}},"y":{"field":"v","type":"quantitative","title":"Precipitation (mm)","scale":{"domain":[-9.4,197],"nice":false,"zero":false},"axis":{"values":[0,100]}}}},
{"data":{"name":"st"},"transform":[{"filter":"datum.s=='T'"}],"mark":{"type":"rule","color":"#666","strokeWidth":0.8},"encoding":{"y":{"field":"mean","type":"quantitative","title":"Precipitation (mm)"},"strokeDash":{"field":"lab","type":"nominal","scale":{"range":[[1,0],[3,2]]},"legend":{"title":null}}}},
{"data":{"name":"tr"},"transform":[{"filter":"datum.s=='T'"}],"mark":{"type":"line","color":"#666","strokeWidth":0.8},"encoding":{"x":{"field":"d","type":"temporal","title":"Year"},"y":{"field":"v","type":"quantitative","title":"Precipitation (mm)"},"strokeDash":{"field":"lab","type":"nominal"}}},
{"data":{"name":"st"},"transform":[{"filter":"datum.s=='T'"}],"mark":{"type":"text","align":"left","baseline":"middle","dx":3,"fontSize":4.5,"color":"#222"},"encoding":{"x":{"field":"d0","type":"temporal","title":"Year"},"y":{"field":"max","type":"quantitative","title":"Precipitation (mm)"},"text":{"field":"mt"}}}
]},
{"title":{"text":"Nazarabad","frame":"group"},"width":641,"height":28,"layer":[
{"data":{"name":"bd"},"mark":{"type":"rect","color":"#cdebcd","opacity":0.22},"encoding":{"x":{"field":"w0","type":"temporal","title":"Year"},"x2":{"field":"w1"}}},
{"data":{"name":"bd"},"mark":{"type":"rect","color":"#f5d3d3","opacity":0.22},"encoding":{"x":{"field":"d0","type":"temporal","title":"Year"},"x2":{"field":"d1"}}},
{"data":{"name":"m"},"transform":[{"fold":["N"],"as":["s","v"]}],"mark":{"type":"line","color":"#1f77b4","strokeWidth":0.9,"opacity":0.8,"invalid":"break-paths-show-domains"},"encoding":{"x":{"field":"d","type":"temporal","title":"Year","scale":{"type":"utc","nice":false,"domain":[{"year":1987,"month":7,"date":16,"utc":true},{"year":2025,"month":2,"date":8,"utc":true}]},"axis":{"values":[{"year":1990,"utc":true},{"year":1995,"utc":true},{"year":2000,"utc":true},{"year":2005,"utc":true},{"year":2010,"utc":true},{"year":2015,"utc":true},{"year":2020,"utc":true}],"format":"%Y","labelOverlap":false}},"y":{"field":"v","type":"quantitative","title":"Precipitation (mm)","scale":{"domain":[-4.7,99],"nice":false,"zero":false},"axis":{"values":[0,50]}}}},
{"data":{"name":"st"},"transform":[{"filter":"datum.s=='N'"}],"mark":{"type":"rule","color":"#666","strokeWidth":0.8},"encoding":{"y":{"field":"mean","type":"quantitative","title":"Precipitation (mm)"},"strokeDash":{"field":"lab","type":"nominal","scale":{"range":[[1,0],[3,2]]},"legend":{"title":null}}}},
{"data":{"name":"tr"},"transform":[{"filter":"datum.s=='N'"}],"mark":{"type":"line","color":"#666","strokeWidth":0.8},"encoding":{"x":{"field":"d","type":"temporal","title":"Year"},"y":{"field":"v","type":"quantitative","title":"Precipitation (mm)"},"strokeDash":{"field":"lab","type":"nominal"}}},
{"data":{"name":"st"},"transform":[{"filter":"datum.s=='N'"}],"mark":{"type":"text","align":"left","baseline":"middle","dx":3,"fontSize":4.5,"color":"#222"},"encoding":{"x":{"field":"d0","type":"temporal","title":"Year"},"y":{"field":"max","type":"quantitative","title":"Precipitation (mm)"},"text":{"field":"mt"}}}
]}
],
"config":{
"font":"DejaVu Sans",
"view":{"stroke":"#444","strokeWidth":0.8},
"axis":{"labelFontSize":4.5,"titleFontSize":5.5,"titleFontWeight":"normal","labelColor":"#222","titleColor":"#222","tickSize":2,"tickColor":"#444","tickWidth":0.5,"domain":false,"grid":true,"gridColor":"#e4e4e4","gridWidth":0.5,"labelPadding":1,"titlePadding":2},
"title":{"fontSize":7,"fontWeight":"bold","offset":-9,"color":"#111"},
"legend":{"orient":"top-right","labelFontSize":4.5,"labelColor":"#333","symbolType":"stroke","symbolSize":40,"symbolStrokeWidth":0.7,"symbolStrokeColor":"#666","fillColor":"white","strokeColor":"#ccc","padding":2,"rowPadding":0.5,"offset":3,"cornerRadius":2,"labelLimit":200}
}
}
